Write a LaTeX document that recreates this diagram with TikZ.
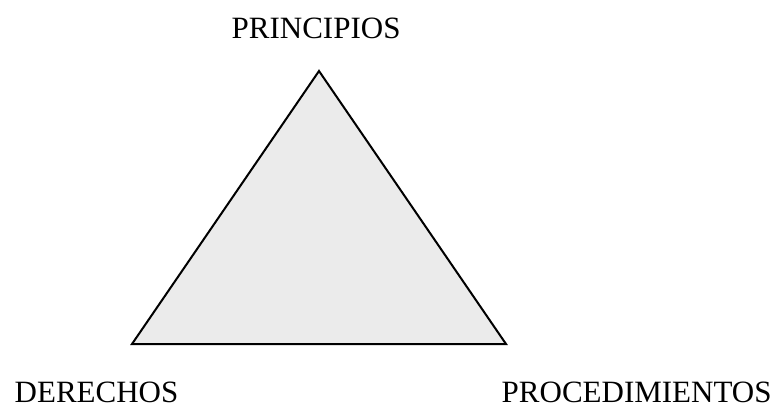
\documentclass[tikz,border=0pt]{standalone}
\usepackage{fontspec}
\setmainfont{Liberation Serif}
\begin{document}
\begin{tikzpicture}[x=1pt,y=-1pt,
  lbl/.style={inner sep=0pt,anchor=base west,text depth=0pt,font=\fontsize{31}{36}\selectfont},
  tri/.style={draw=black,line width=2pt,fill=black!8,line join=miter}]
\useasboundingbox (0,0) rectangle (779,405);
\coordinate (apex) at (319,71);
\coordinate (bl) at (132,344);
\coordinate (br) at (506,344);
\draw[tri] (apex) -- (br) -- (bl) -- cycle;
\node[lbl] (pr) at (231.5,38) {PRINCIPIOS};
\node[lbl] (de) at (14.5,402.5) {DERECHOS};
\node[lbl] (pc) at (501.5,402.5) {PROCEDIMIENTOS};
\end{tikzpicture}
\end{document}
